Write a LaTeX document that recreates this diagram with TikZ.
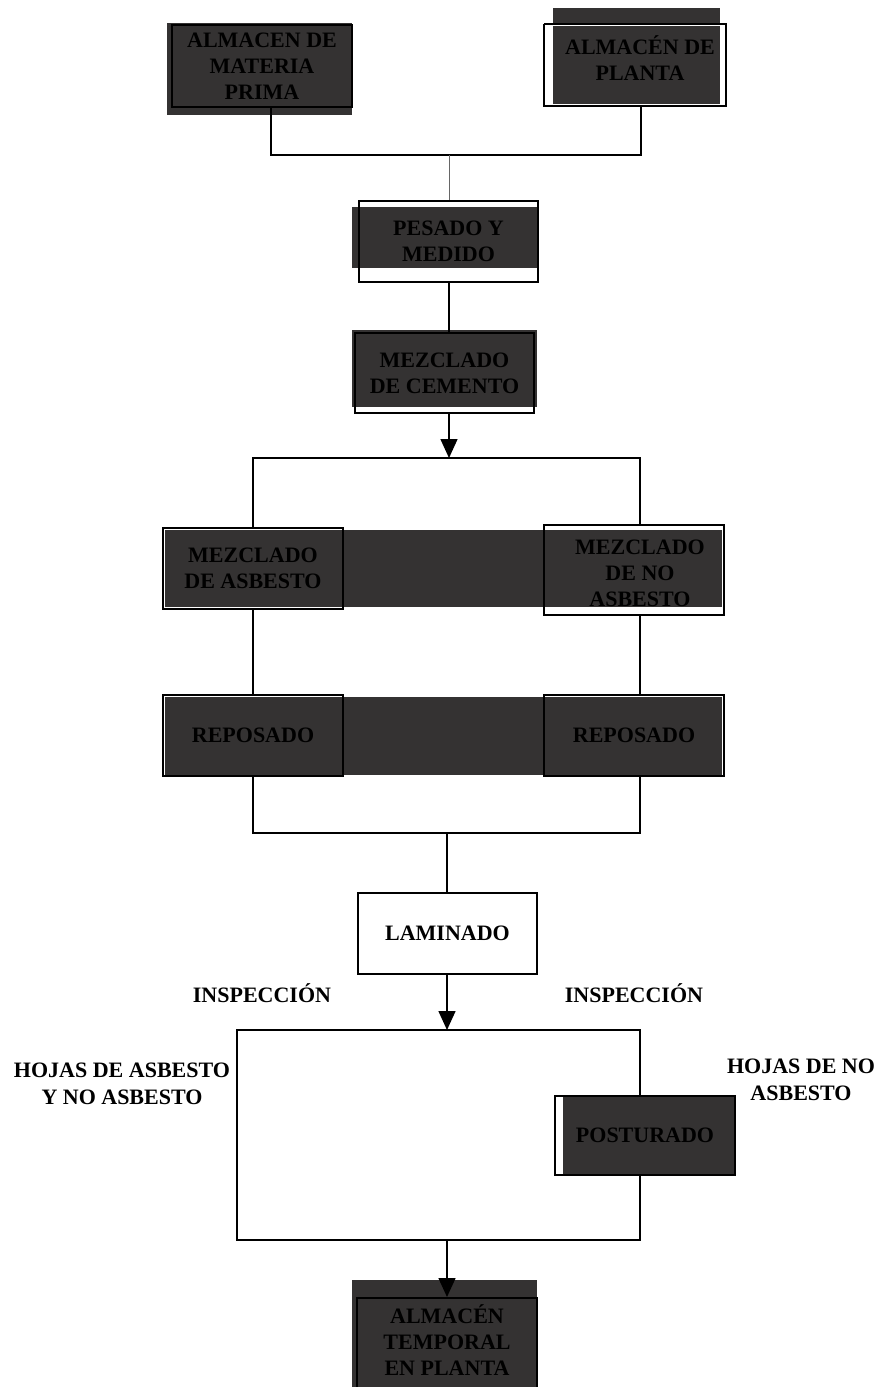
\documentclass[tikz,border=0pt]{standalone}
\usepackage{fontspec}
\setmainfont{Liberation Serif}
\usetikzlibrary{arrows.meta}
\definecolor{boxfill}{RGB}{52,50,50}
\tikzset{
  txt/.style={font=\bfseries\fontsize{22}{26}\selectfont, align=center, text=black},
  outl/.style={draw=black, line width=1.6pt, inner sep=0pt, txt},
  lbl/.style={font=\bfseries\fontsize{22}{26.5}\selectfont, align=center, text=black},
  conn/.style={draw=black, line width=1.5pt},
  arr/.style={conn, -{Triangle[length=19pt,width=17pt]}},
}
\begin{document}
\begin{tikzpicture}[x=1pt,y=-1pt]
\useasboundingbox (0,0) rectangle (882,1387);
% dark fills
\fill[boxfill] (167,23) rectangle (352,115);
\fill[boxfill] (553,8) rectangle (720,104);
\fill[boxfill] (352,207) rectangle (537,268);
\fill[boxfill] (352,330) rectangle (537,407);
\fill[boxfill] (165,530) rectangle (722,607);
\fill[boxfill] (165,697) rectangle (722,775);
\fill[boxfill] (563,1096) rectangle (735,1175);
\fill[boxfill] (352,1280) rectangle (537,1387);
% boxes
\node[outl, minimum width=180, minimum height=82] (b1) at (262,66) {ALMACEN DE\\MATERIA\\PRIMA};
\node[outl, draw=white, minimum width=180, minimum height=80] (b2) at (635,65) {};
\draw[black, line width=1.6pt] (b2.north west) -- (b2.south west) -- (b2.south east) -- (b2.north east) -- (b2.north west);
\node[txt] (t2) at (640,58) {ALMACÉN DE\\PLANTA};
\node[outl, minimum width=179, minimum height=81] (b3) at (448.5,241.5) {PESADO Y\\MEDIDO};
\node[outl, minimum width=179, minimum height=80] (b4) at (444.5,373) {MEZCLADO\\DE CEMENTO};
\node[outl, minimum width=180, minimum height=81] (b5) at (253,568.5) {MEZCLADO\\DE ASBESTO};
\node[outl, minimum width=180, minimum height=90] (b6) at (634,570) {};
\node[txt] (t6) at (640,573) {MEZCLADO\\DE NO\\ASBESTO};
\node[outl, minimum width=180, minimum height=81] (b7) at (253,735.5) {REPOSADO};
\node[outl, minimum width=180, minimum height=81] (b8) at (634,735.5) {REPOSADO};
\node[outl, minimum width=179, minimum height=81] (lam) at (447.5,933.5) {LAMINADO};
\node[outl, minimum width=180, minimum height=79] (pos) at (645,1135.5) {POSTURADO};
\node[outl, minimum width=180, minimum height=96, anchor=north] (fin) at (447,1297) {};
\node[txt] (tf) at (447,1340) {ALMACÉN\\TEMPORAL\\EN PLANTA};
% labels
\node[lbl] (i1) at (262,993) {INSPECCIÓN};
\node[lbl] (i2) at (634,993) {INSPECCIÓN};
\node[lbl] (h1) at (122,1084) {HOJAS DE ASBESTO\\Y NO ASBESTO};
\node[lbl] (h2) at (801,1080) {HOJAS DE NO\\ASBESTO};
% junction coordinates
\coordinate (j1) at (449,155);
\coordinate (j2) at (449,458);
\coordinate (j3) at (447,833);
\coordinate (j4) at (447,1030);
\coordinate (j5) at (447,1240);
% connectors
\draw[conn] ([xshift=9]b1.south) |- (j1) -| ([xshift=6]b2.south);
\draw[black!60, line width=1pt] (j1) -- (b3.north -| j1);
\draw[conn] (b3.south -| j1) -- (b4.north -| j1);
\draw[arr] (b4.south -| j1) -- (j2);
\draw[conn] (b5.north) |- (j2) -| ([xshift=6]b6.north);
\draw[conn] (b5.south) -- (b7.north);
\draw[conn] ([xshift=6]b6.south) -- ([xshift=6]b8.north);
\draw[conn] (b7.south) |- (j3) -| ([xshift=6]b8.south);
\draw[conn] (j3) -- (lam.north -| j3);
\draw[arr] (lam.south -| j4) -- (j4);
\coordinate (c1) at (237,1030);
\draw[conn] (j5) -| (c1) -- (j4) -| ([xshift=-5]pos.north);
\draw[conn] ([xshift=-5]pos.south) |- (j5);
\draw[arr] (j5) -- (fin.north);
\end{tikzpicture}
\end{document}
